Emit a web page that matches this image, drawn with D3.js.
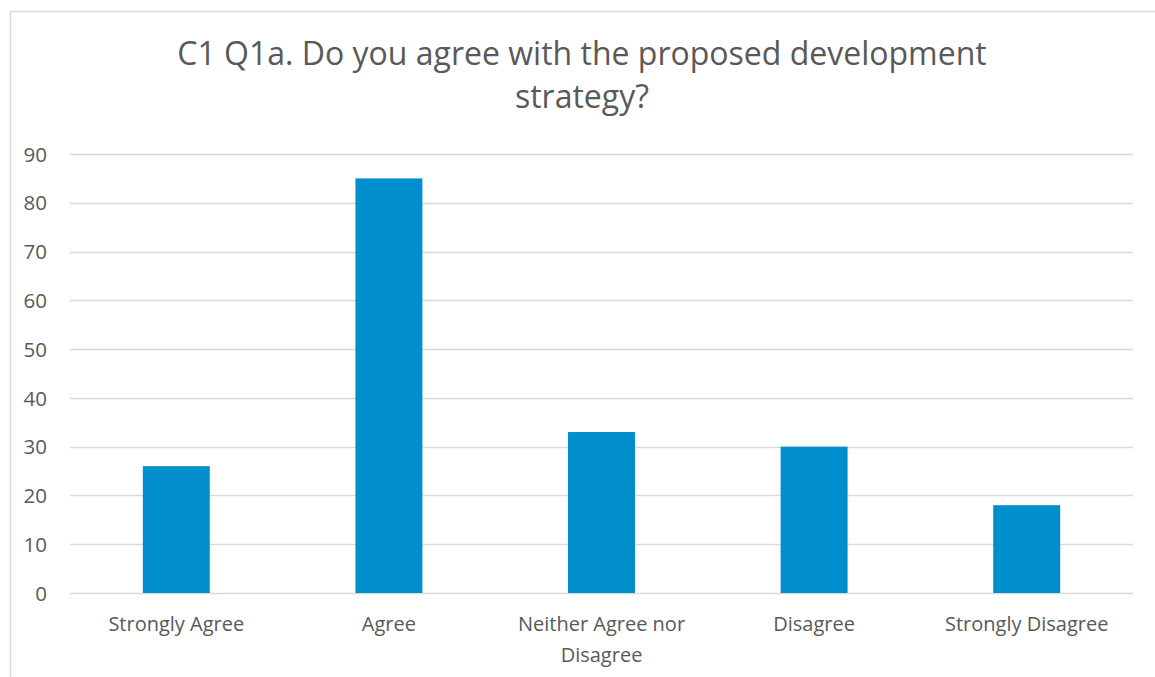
<!DOCTYPE html>
<html>
<head>
<meta charset="utf-8">
<script src="https://cdn.jsdelivr.net/npm/d3@7"></script>
<style>
  html, body { margin: 0; padding: 0; background: #fff; }
  svg { display: block; }
  text { font-family: "Open Sans", "Noto Sans", sans-serif; fill: #595959; }
</style>
</head>
<body>
<svg id="chart" width="1155" height="677"></svg>
<script>
// Survey responses
const categories = ["Strongly Agree", "Agree", "Neither Agree nor Disagree", "Disagree", "Strongly Disagree"];
const counts = [26, 85, 33, 30, 18];
const yTicks = [0, 10, 20, 30, 40, 50, 60, 70, 80, 90];
const titleLines = ["C1 Q1a. Do you agree with the proposed development", "strategy?"];

const W = 1155, H = 677;
const plot = { left: 70, right: 1133, top: 154, bottom: 593 };

const svg = d3.select("#chart");

// chart frame
svg.append("rect")
  .attr("x", 10.5).attr("y", 11.5)
  .attr("width", 1160).attr("height", 700)
  .attr("fill", "none").attr("stroke", "#d9d9d9").attr("stroke-width", 1.5);

const x = d3.scaleBand()
  .domain(categories)
  .range([plot.left, plot.right])
  .paddingInner(0.685)
  .paddingOuter(0.3425);

const y = d3.scaleLinear()
  .domain([0, 90])
  .range([plot.bottom, plot.top]);

// gridlines
svg.append("g")
  .selectAll("line")
  .data(yTicks)
  .join("line")
  .attr("x1", plot.left).attr("x2", plot.right)
  .attr("y1", d => Math.round(y(d)) + 0.5)
  .attr("y2", d => Math.round(y(d)) + 0.5)
  .attr("stroke", "#d9d9d9").attr("stroke-width", 1.5);

// y axis labels
const yAxis = d3.axisLeft(y).tickValues(yTicks).tickSize(0).tickPadding(0);
svg.append("g")
  .attr("transform", "translate(47,0)")
  .call(yAxis)
  .call(g => g.select(".domain").remove())
  .call(g => g.selectAll("text")
    .attr("fill", "#595959")
    .style("font-size", "20.5px")
    .attr("dy", "0.35em"));

// bars
svg.append("g")
  .selectAll("rect")
  .data(categories)
  .join("rect")
  .attr("x", d => x(d))
  .attr("width", x.bandwidth())
  .attr("y", (d, i) => y(counts[i]))
  .attr("height", (d, i) => y(0) - y(counts[i]))
  .attr("fill", "#008fcd");

// category labels, wrapped to the band step
const xAxis = d3.axisBottom(x).tickSize(0).tickPadding(0);
const xg = svg.append("g")
  .attr("transform", `translate(0,${plot.bottom})`)
  .call(xAxis)
  .call(g => g.select(".domain").remove());

xg.selectAll("text")
  .attr("fill", "#595959")
  .style("font-size", "20px")
  .attr("y", 0).attr("dy", null)
  .each(function(d) {
    const t = d3.select(this);
    const words = d.split(" ");
    const maxW = x.step() - 20;
    const lines = [];
    let cur = [];
    t.text(null);
    const probe = t.append("tspan");
    for (const w of words) {
      const trial = cur.concat(w).join(" ");
      probe.text(trial);
      if (probe.node().getComputedTextLength() > maxW && cur.length) {
        lines.push(cur.join(" "));
        cur = [w];
      } else {
        cur.push(w);
      }
    }
    lines.push(cur.join(" "));
    probe.remove();
    lines.forEach((ln, i) => {
      t.append("tspan")
        .attr("x", 0)
        .attr("y", 38 + i * 31)
        .text(ln);
    });
  });

// title
const title = svg.append("g");
title.selectAll("text")
  .data(titleLines)
  .join("text")
  .attr("x", 582)
  .attr("y", (d, i) => 65 + i * 43)
  .attr("text-anchor", "middle")
  .style("font-size", "32px")
  .text(d => d);
</script>
</body>
</html>
